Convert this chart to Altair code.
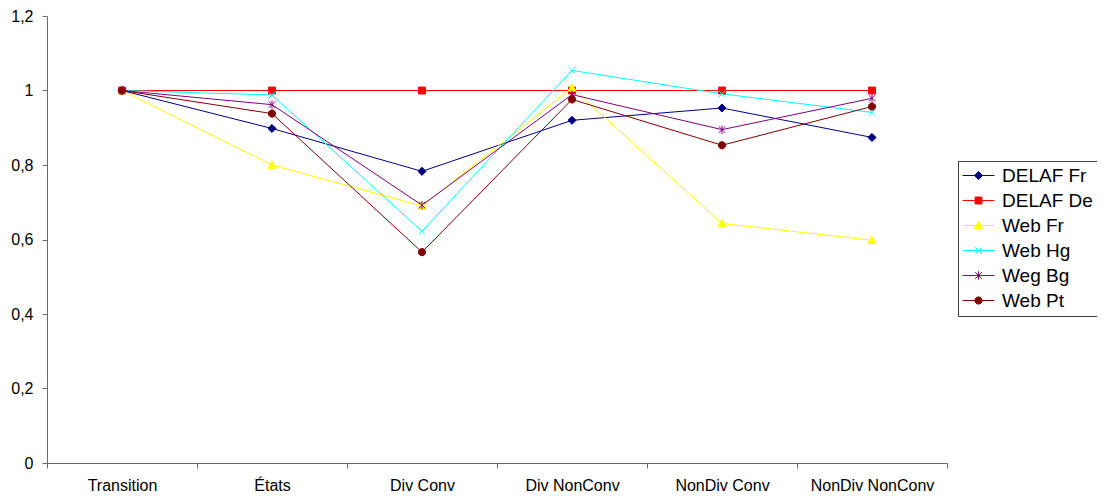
import altair as alt
import pandas as pd

categories = ["Transition", "États", "Div Conv", "Div NonConv", "NonDiv Conv", "NonDiv NonConv"]
series_names = ["DELAF Fr", "DELAF De", "Web Fr", "Web Hg", "Weg Bg", "Web Pt"]

delaf_fr = [1.0, 0.898, 0.783, 0.920, 0.953, 0.874]
delaf_de = [1.0, 1.0, 1.0, 1.0, 1.0, 1.0]
web_fr = [1.0, 0.800, 0.690, 1.007, 0.643, 0.598]
web_hg = [1.0, 0.988, 0.622, 1.054, 0.991, 0.941]
weg_bg = [1.0, 0.962, 0.692, 0.989, 0.895, 0.979]
web_pt = [1.0, 0.938, 0.566, 0.976, 0.853, 0.957]

colors = ["#000080", "#FF0000", "#FFFF00", "#00FFFF", "#800080", "#800000"]

# marker shapes (custom symbol paths, unit scale)
m_diamond = "M-1.35,0L0,-1.35L1.35,0L0,1.35Z"
m_square = "M-1.15,-1.15H1.15V1.15H-1.15Z"
m_triangle = "M0,-1.35L1.35,1.1L-1.35,1.1Z"
m_x = "M-1.1,-1.1L1.1,1.1M-1.1,1.1L1.1,-1.1"
m_star = "M-1.1,-1.1L1.1,1.1M-1.1,1.1L1.1,-1.1M0,-1.4L0,1.4"
m_circle = "M-1.2,0A1.2,1.2,0,1,0,1.2,0A1.2,1.2,0,1,0,-1.2,0Z"
markers = [m_diamond, m_square, m_triangle, m_x, m_star, m_circle]
legend_line = "M-5.3,0H5.3"
legend_symbols = [legend_line + m for m in markers]

all_values = [delaf_fr, delaf_de, web_fr, web_hg, weg_bg, web_pt]
rows = []
for s, vals in zip(series_names, all_values):
    for i, (c, v) in enumerate(zip(categories, vals)):
        rows.append({"cat": c, "series": s, "value": v, "order": i})
df = pd.DataFrame(rows)

FONT = "Liberation Sans"
AXIS_COL = "#6a6a6a"

x_enc = alt.X(
    "cat:N",
    sort=categories,
    bandPosition=0.5,
    scale=alt.Scale(type="band", paddingInner=0, paddingOuter=0),
    axis=alt.Axis(
        title=None, labelAngle=0, tickBand="extent", domainColor=AXIS_COL,
        tickColor=AXIS_COL, tickSize=5, labelPadding=9, labelFontSize=16,
        labelFont=FONT, labelColor="#000000", grid=False,
    ),
)
y_enc = alt.Y(
    "value:Q",
    scale=alt.Scale(domain=[0, 1.2], nice=False, zero=True),
    axis=alt.Axis(
        title=None, values=[0, 0.2, 0.4, 0.6, 0.8, 1.0, 1.2],
        labelExpr="replace(format(datum.value, '.1~f'), '.', ',')",
        domainColor=AXIS_COL, tickColor=AXIS_COL, tickSize=5, labelPadding=9,
        labelFontSize=16, labelFont=FONT, labelColor="#000000", grid=False,
    ),
)

col_scale = alt.Scale(domain=series_names, range=colors)

leg = alt.Legend(
    title=None, orient="none", legendX=911, legendY=145,
    labelFont=FONT, labelFontSize=19, labelColor="#000000",
    symbolSize=36, symbolStrokeWidth=1, symbolOpacity=1,
    symbolFillColor=alt.ExprRef(expr="scale('stroke', datum.value)"),
    symbolStrokeColor=alt.ExprRef(expr="scale('stroke', datum.value)"),
    symbolOffset=6, labelOffset=14, rowPadding=5,
    strokeColor="#404040", fillColor="#FFFFFF", padding=5,
)

base = alt.Chart(df)

legend_layer = base.mark_point(filled=True, size=36, strokeWidth=1, opacity=0).encode(
    x=x_enc,
    y=y_enc,
    fill=alt.Fill("series:N", scale=col_scale, legend=leg),
    stroke=alt.Stroke("series:N", scale=col_scale, legend=leg),
    shape=alt.Shape("series:N", scale=alt.Scale(domain=series_names, range=legend_symbols), legend=leg),
)

lines = base.mark_line(strokeWidth=1).encode(
    x=x_enc,
    y=y_enc,
    stroke=alt.Stroke("series:N", scale=col_scale, legend=leg),
    detail="series:N",
    order="order:Q",
)

points = base.mark_point(filled=True, size=36, strokeWidth=1, opacity=1).encode(
    x=x_enc,
    y=y_enc,
    fill=alt.Fill("series:N", scale=col_scale, legend=leg),
    stroke=alt.Stroke("series:N", scale=col_scale, legend=leg),
    shape=alt.Shape("series:N", scale=alt.Scale(domain=series_names, range=markers), legend=None),
)

chart = (
    alt.layer(legend_layer, lines, points)
    .resolve_scale(shape="independent")
    .properties(
        width=900, height=447,
        padding={"left": 39, "top": 8, "right": 150, "bottom": 30},
        autosize=alt.AutoSizeParams(type="none"),
    )
    .configure_view(stroke=None)
)

chart.save("out.html", embed_options={"renderer": "svg", "actions": False})
